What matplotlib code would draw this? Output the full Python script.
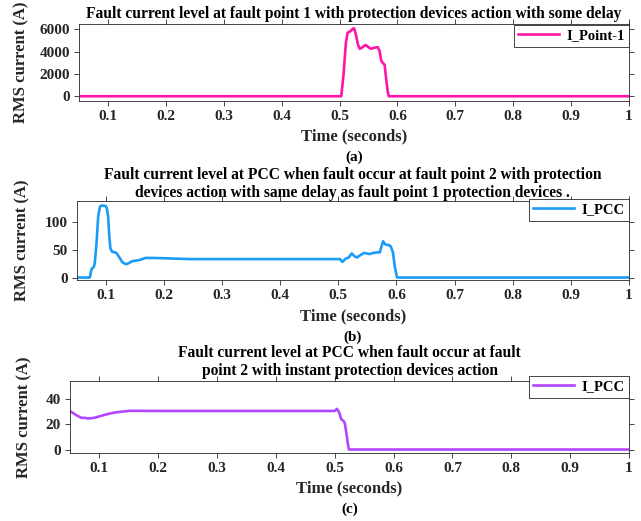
import matplotlib
matplotlib.use("Agg")
import matplotlib.pyplot as plt

plt.rcParams['font.family'] = ['Liberation Serif', 'DejaVu Serif']
plt.rcParams['font.weight'] = 'bold'

# ---------------- data ----------------
time_a = [0.05, 0.503, 0.507, 0.511, 0.514, 0.518, 0.522, 0.525, 0.528, 0.532, 0.535,
          0.540, 0.545, 0.550, 0.554, 0.560, 0.566, 0.569, 0.572, 0.5745, 0.578, 0.580,
          0.583, 0.585, 1.0]
current_a = [0, 0, 2000, 4800, 5700, 5800, 6000, 6100, 5600, 4600, 4250,
             4400, 4600, 4400, 4250, 4350, 4400, 4100, 3200, 3000, 2800, 1800,
             500, 0, 0]

time_b = [0.05, 0.0725, 0.0745, 0.076, 0.079, 0.081, 0.084, 0.087, 0.090, 0.093, 0.100,
          0.102, 0.104, 0.106, 0.108, 0.111, 0.116, 0.119, 0.124, 0.128, 0.132, 0.136,
          0.140, 0.145, 0.150, 0.157, 0.163, 0.168, 0.183, 0.200, 0.243, 0.503, 0.507,
          0.513, 0.518, 0.523, 0.528, 0.532, 0.538, 0.544, 0.549, 0.554, 0.560, 0.566,
          0.5715, 0.574, 0.577, 0.580, 0.582, 0.587, 0.590, 0.594, 0.597, 0.601, 1.0]
current_b = [0, 0, 10, 16, 18, 25, 60, 110, 127, 129, 128,
             123, 110, 75, 52, 46, 45, 43, 35, 28, 25, 24,
             26, 29, 30, 31, 33, 35, 35, 34.5, 33, 33, 28,
             34, 36, 43, 38, 36, 40, 44, 43, 42, 44, 45,
             45, 55, 65, 60, 59, 58, 56, 45, 20, 0, 0]

time_c = [0.05, 0.0545, 0.061, 0.0693, 0.075, 0.080, 0.087, 0.094, 0.101, 0.110, 0.118,
          0.127, 0.135, 0.145, 0.152, 0.200, 0.400, 0.500, 0.5034, 0.506, 0.508, 0.510,
          0.512, 0.515, 0.517, 0.520, 0.522, 0.524, 1.0]
current_c = [30.3, 29, 27, 25, 25, 24.5, 24.7, 25.3, 26.3, 27.5, 28.4,
             29.2, 29.7, 30.2, 30.5, 30.4, 30.4, 30.4, 32, 30.5, 28.7, 25,
             23.4, 22.5, 20.8, 12, 5, 0, 0]

x_ticks = [0.1, 0.2, 0.3, 0.4, 0.5, 0.6, 0.7, 0.8, 0.9, 1.0]
x_tick_labels = ['0.1', '0.2', '0.3', '0.4', '0.5', '0.6', '0.7', '0.8', '0.9', '1']

titles = ["Fault current level at fault point 1 with protection devices action with some delay",
          "Fault current level at PCC when fault occur at fault point 2 with protection\n"
          "devices action with same delay as fault point 1 protection devices .",
          "Fault current level at PCC when fault occur at fault\n"
          "point 2 with instant protection devices action"]
legend_labels = ["I_Point-1", "I_PCC", "I_PCC"]
sub_labels = ["(a)", "(b)", "(c)"]
y_ticks = [[0, 2000, 4000, 6000], [0, 50, 100], [0, 20, 40]]
y_lims = [(-400, 6450), (-5, 137), (-2.5, 54)]
colors = ['#FF14A8', '#1A9BF5', '#B146FF']

# ---------------- layout (pixels) ----------------
W, H = 641, 521
fig = plt.figure(figsize=(W / 100, H / 100), dpi=100)

def fx(px):
    return px / W

def fy(py):
    return 1 - py / H

# (left, right, top, bottom, title_y, ylabel_x, legend_top)
boxes = [(79, 629, 24.3, 100.7, 14, 21.7, 25),
         (76.7, 629, 201, 280.3, 184, 22.7, 199),
         (70, 629, 381, 452.7, 362, 24, 376)]

series = [(time_a, current_a), (time_b, current_b), (time_c, current_c)]

for i, (l, r, t, b, ty, ylx, lt) in enumerate(boxes):
    ax = fig.add_axes([fx(l), fy(b), fx(r - l), (b - t) / H])
    tx, cy = series[i]
    ax.plot(tx, cy, color=colors[i], lw=1.9, label=legend_labels[i])
    ax.set_xlim(0.05, 1.0)
    ax.set_ylim(*y_lims[i])
    ax.set_xticks(x_ticks)
    ax.set_xticklabels(x_tick_labels)
    ax.set_yticks(y_ticks[i])
    ax.tick_params(direction='out', length=3.5, width=0.6, labelsize=11,
                   top=True, right=True, pad=3, colors='#262626', labelcolor='#262626')
    for s in ax.spines.values():
        s.set_linewidth(0.6)
        s.set_color('#262626')
    for lab in ax.get_xticklabels() + ax.get_yticklabels():
        lab.set_fontweight('bold')
    leg = ax.legend(loc='upper right', bbox_to_anchor=(fx(r), fy(lt)),
                    bbox_transform=fig.transFigure, frameon=True, fancybox=False,
                    framealpha=1, edgecolor='#262626', borderpad=0.3,
                    handlelength=2.8, handletextpad=0.5, borderaxespad=0,
                    prop={'weight': 'bold', 'size': 10.5})
    leg.get_frame().set_linewidth(0.6)
    xc = (l + r) / 2
    fig.text(fx(xc), fy(ty), titles[i], ha='center', va='center', fontsize=11.2,
             fontweight='bold', linespacing=1.2)
    fig.text(fx(ylx), fy((t + b) / 2), "RMS current (A)", rotation=90, ha='center',
             va='center', fontsize=12, fontweight='bold', color='#262626')
    fig.text(fx(xc), fy(b + 36), "Time (seconds)", ha='center', va='center',
             fontsize=12, fontweight='bold', color='#262626')
    fig.text(fx(xc), fy(b + 57), sub_labels[i], ha='center', va='center',
             fontsize=11, fontweight='bold')

fig.savefig("out.png", dpi=100)
